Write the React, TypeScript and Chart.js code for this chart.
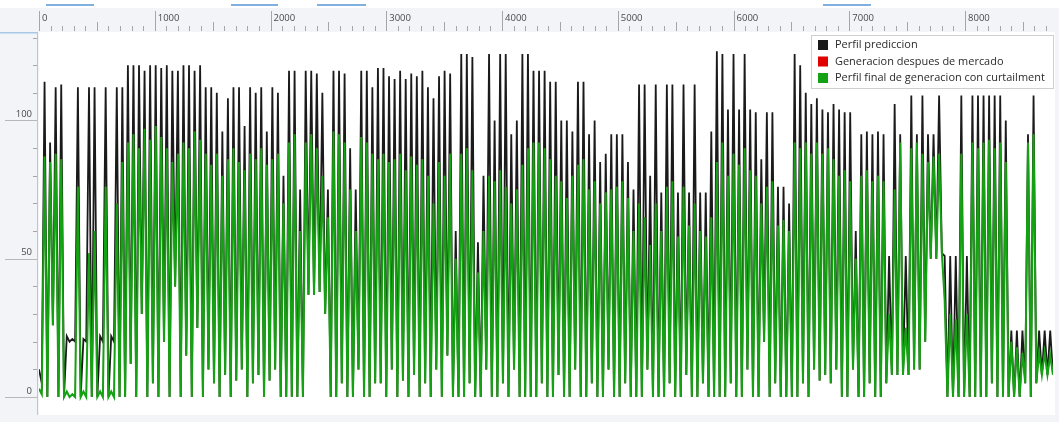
import React, { useEffect, useRef } from "react";
import { Chart, registerables } from "chart.js";

Chart.register(...registerables);

// Hour step between reading columns (each column: one peak and one trough)
const HOURS_PER_COLUMN = 48;

// Perfil prediccion — peak of each column
const predHigh = [
  10, 114, 92, 112, 113, 22, 21, 112, 21, 112,
  112, 22, 112, 22, 112, 112, 120, 120, 120, 118,
  120, 120, 119, 120, 118, 118, 120, 120, 118, 120,
  112, 112, 110, 96, 108, 112, 112, 98, 112, 110,
  112, 96, 112, 110, 80, 118, 118, 75, 118, 118,
  117, 110, 75, 118, 118, 117, 90, 75, 118, 118,
  112, 119, 119, 116, 115, 118, 115, 117, 116, 118,
  112, 108, 116, 118, 117, 60, 124, 124, 123, 56,
  80, 124, 100, 124, 124, 95, 100, 124, 124, 118,
  118, 118, 114, 114, 100, 100, 96, 114, 114, 95,
  100, 85, 88, 95, 95, 95, 85, 75, 113, 113,
  80, 113, 74, 113, 113, 74, 113, 74, 113, 74,
  74, 96, 125, 124, 104, 124, 104, 124, 104, 103,
  86, 103, 103, 76, 76, 70, 124, 120, 110, 106,
  108, 104, 103, 106, 104, 103, 103, 60, 95, 96,
  95, 96, 95, 51, 106, 95, 51, 109, 95, 109,
  95, 95, 109, 51, 51, 51, 109, 51, 109, 109,
  109, 109, 109, 109, 100, 24, 24, 24, 95, 109,
  24, 24, 24,
];

// Perfil prediccion — trough of each column
const predLow = [
  5, 0, 26, 0, 0, 20, 20, 0, 20, 0,
  0, 20, 0, 20, 0, 0, 12, 0, 30, 0,
  5, 0, 20, 0, 40, 0, 15, 0, 25, 0,
  10, 5, 0, 8, 0, 6, 10, 0, 5, 8,
  0, 6, 10, 0, 0, 0, 0, 0, 37, 37,
  38, 30, 0, 0, 5, 0, 0, 10, 0, 0,
  5, 5, 0, 10, 0, 6, 0, 8, 0, 5,
  0, 10, 0, 15, 0, 0, 0, 5, 0, 0,
  10, 0, 0, 5, 0, 10, 0, 0, 0, 0,
  5, 0, 0, 8, 0, 0, 10, 0, 0, 5,
  0, 0, 10, 0, 0, 5, 0, 0, 0, 10,
  0, 0, 0, 5, 0, 0, 8, 0, 0, 5,
  0, 0, 0, 0, 5, 0, 0, 10, 0, 0,
  20, 0, 5, 0, 0, 0, 0, 5, 0, 10,
  6, 8, 5, 10, 0, 0, 10, 0, 0, 5,
  0, 0, 5, 8, 8, 8, 8, 10, 10, 20,
  50, 50, 52, 0, 0, 0, 0, 0, 0, 0,
  0, 5, 0, 0, 0, 0, 0, 5, 0, 5,
  8, 8, 8,
];

// Perfil final de generacion con curtailment — peak of each column
const curtHigh = [
  3, 87, 85, 88, 86, 2, 1, 76, 2, 52,
  60, 2, 76, 2, 70, 85, 92, 95, 90, 97,
  93, 98, 94, 90, 85, 88, 92, 90, 96, 93,
  88, 84, 88, 80, 86, 90, 85, 82, 88, 86,
  90, 84, 86, 88, 70, 92, 95, 60, 92, 95,
  90, 80, 65, 96, 95, 92, 75, 60, 94, 92,
  88, 86, 88, 85, 86, 88, 82, 87, 84, 86,
  80, 70, 85, 80, 88, 50, 88, 90, 82, 45,
  60, 80, 78, 82, 76, 70, 75, 84, 90, 92,
  92, 90, 86, 80, 78, 72, 80, 84, 86, 75,
  78, 70, 74, 75, 76, 78, 72, 60, 70, 65,
  55, 70, 60, 76, 78, 58, 76, 62, 70, 60,
  58, 65, 85, 92, 80, 88, 84, 90, 82, 80,
  70, 76, 78, 62, 64, 60, 92, 90, 92, 88,
  92, 88, 90, 86, 80, 82, 78, 50, 80, 82,
  78, 80, 78, 30, 75, 92, 25, 90, 92, 88,
  85, 87, 88, 35, 30, 28, 88, 30, 92, 90,
  92, 93, 90, 92, 85, 20, 18, 16, 92, 95,
  16, 16, 15,
];

// Perfil final de generacion con curtailment — trough of each column
const curtLow = [
  1, 0, 26, 0, 0, 0, 0, 0, 0, 0,
  0, 0, 0, 0, 0, 0, 12, 0, 30, 0,
  5, 0, 20, 0, 40, 0, 15, 0, 25, 0,
  10, 5, 0, 8, 0, 6, 10, 0, 5, 8,
  0, 6, 10, 0, 0, 0, 0, 0, 37, 37,
  38, 30, 0, 0, 5, 0, 0, 10, 0, 0,
  5, 5, 0, 10, 0, 6, 0, 8, 0, 5,
  0, 10, 0, 15, 0, 0, 0, 5, 0, 0,
  10, 0, 0, 5, 0, 10, 0, 0, 0, 0,
  5, 0, 0, 8, 0, 0, 10, 0, 0, 5,
  0, 0, 10, 0, 0, 5, 0, 0, 0, 10,
  0, 0, 0, 5, 0, 0, 8, 0, 0, 5,
  0, 0, 0, 0, 5, 0, 0, 10, 0, 0,
  20, 0, 5, 0, 0, 0, 0, 5, 0, 10,
  6, 8, 5, 10, 0, 0, 10, 0, 0, 5,
  0, 0, 5, 8, 8, 8, 8, 10, 10, 20,
  50, 50, 52, 0, 0, 0, 0, 0, 0, 0,
  0, 5, 0, 0, 0, 0, 0, 5, 0, 5,
  8, 8, 8,
];

const seriesNames = [
  "Perfil prediccion",
  "Generacion despues de mercado",
  "Perfil final de generacion con curtailment",
];
const seriesColors = ["#1a1a1a", "#e00000", "#14a214"];

const xTickLabels = ["0", "1000", "2000", "3000", "4000", "5000", "6000", "7000", "8000"];
const yTickLabels = ["0", "50", "100"];

function buildPoints(high: number[], low: number[]) {
  const pts: { x: number; y: number }[] = [];
  for (let i = 0; i < high.length; i++) {
    pts.push({ x: i * HOURS_PER_COLUMN, y: high[i] });
    pts.push({ x: i * HOURS_PER_COLUMN + HOURS_PER_COLUMN / 2, y: low[i] });
  }
  return pts;
}

const FONT = '"Open Sans", "Noto Sans", sans-serif';

const decorPlugin = {
  id: "decor",
  beforeDraw(chart: any) {
    const { ctx, chartArea: a, width, height } = chart;
    ctx.save();
    ctx.fillStyle = "#f3f4f8";
    ctx.fillRect(0, 0, width, height);
    ctx.fillStyle = "#ffffff";
    ctx.fillRect(0, 0, width, 8);
    ctx.fillRect(a.left, a.top, a.right - a.left + 2, a.bottom - a.top);
    ctx.fillStyle = "#7fb0e0";
    [[46, 94], [231, 278], [317, 366], [823, 871]].forEach(([x0, x1]) => {
      ctx.fillRect(x0, 4, x1 - x0, 2);
    });
    ctx.fillStyle = "#a9c8e8";
    ctx.fillRect(0, 32, 37, 1.5);
    ctx.restore();
  },
  afterDraw(chart: any) {
    const { ctx, chartArea: a, scales } = chart;
    const xs = scales.x;
    const ys = scales.y;
    ctx.save();
    ctx.strokeStyle = "#a6a6a6";
    ctx.lineWidth = 1;
    for (let v = 0; v <= 8700; v += 100) {
      const px = Math.round(xs.getPixelForValue(v)) + 0.5;
      let y0 = 26;
      if (v % 1000 === 0) y0 = 11;
      else if (v % 500 === 0) y0 = 22;
      ctx.beginPath();
      ctx.moveTo(px, y0);
      ctx.lineTo(px, 31);
      ctx.stroke();
    }
    ctx.fillStyle = "#4a4a4a";
    ctx.font = `9.5px ${FONT}`;
    ctx.textAlign = "left";
    ctx.textBaseline = "middle";
    xTickLabels.forEach((t) => {
      const px = xs.getPixelForValue(Number(t));
      ctx.fillText(t, px + 3, 18);
    });
    ctx.strokeStyle = "#c4c4c4";
    ctx.beginPath();
    ctx.moveTo(37.5, a.top);
    ctx.lineTo(37.5, a.bottom);
    ctx.stroke();
    for (let v = 0; v <= 130; v += 10) {
      const py = Math.round(ys.getPixelForValue(v)) + 0.5;
      const major = v % 50 === 0;
      ctx.strokeStyle = major ? "#b8b8b8" : "#a6a6a6";
      ctx.beginPath();
      ctx.moveTo(major ? 5 : 33, py);
      ctx.lineTo(37, py);
      ctx.stroke();
    }
    ctx.textAlign = "right";
    yTickLabels.forEach((t) => {
      const py = ys.getPixelForValue(Number(t));
      ctx.fillText(t, 32, py - 6);
    });
    const lx = 811, ly = 35, lw = 242, lh = 53;
    ctx.fillStyle = "#ffffff";
    ctx.fillRect(lx, ly, lw, lh);
    ctx.strokeStyle = "#cfcfcf";
    ctx.strokeRect(lx + 0.5, ly + 0.5, lw, lh);
    ctx.font = `12px ${FONT}`;
    const longest = ctx.measureText(seriesNames[2]).width;
    const fs = 12 * (210 / longest);
    ctx.font = `${fs}px ${FONT}`;
    ctx.textAlign = "left";
    ctx.textBaseline = "middle";
    const rows = [45, 61.5, 78];
    seriesNames.forEach((name, i) => {
      ctx.fillStyle = seriesColors[i];
      ctx.fillRect(818, rows[i] - 5, 10, 10);
      ctx.fillStyle = "#2a2a2a";
      ctx.fillText(name, 835, rows[i]);
    });
    ctx.restore();
  },
};

export default function App() {
  const ref = useRef<HTMLCanvasElement | null>(null);
  useEffect(() => {
    if (!ref.current) return;
    const predPts = buildPoints(predHigh, predLow);
    const curtPts = buildPoints(curtHigh, curtLow);
    const chart = new Chart(ref.current, {
      type: "line",
      data: {
        datasets: [
          {
            label: seriesNames[0],
            data: predPts,
            borderColor: seriesColors[0],
            borderWidth: 1.8,
            order: 3,
          },
          {
            label: seriesNames[1],
            data: curtPts,
            borderColor: seriesColors[1],
            borderWidth: 0.6,
            order: 2,
          },
          {
            label: seriesNames[2],
            data: curtPts,
            borderColor: seriesColors[2],
            borderWidth: 2,
            order: 1,
          },
        ],
      },
      options: {
        responsive: false,
        animation: false,
        layout: { padding: { left: 39, top: 32, right: 6, bottom: 7 } },
        elements: {
          point: { radius: 0 },
          line: { tension: 0, borderJoinStyle: "miter", capBezierPoints: false },
        },
        scales: {
          x: { type: "linear", display: false, min: 0, max: 8760 },
          y: { type: "linear", display: false, min: -6.5, max: 132 },
        },
        plugins: {
          legend: { display: false },
          tooltip: { enabled: false },
        },
      },
      plugins: [decorPlugin],
    });
    return () => chart.destroy();
  }, []);
  return (
    <div style={{ position: "fixed", left: 0, top: 0, width: 1059, height: 422 }}>
      <canvas ref={ref} width={1059} height={422} style={{ display: "block" }} />
    </div>
  );
}
